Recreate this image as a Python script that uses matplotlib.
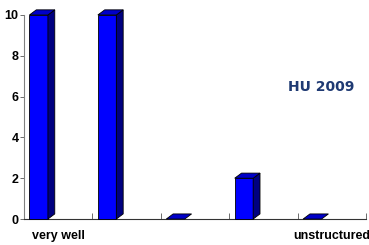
import matplotlib
matplotlib.use("Agg")
import matplotlib.pyplot as plt
from matplotlib.patches import Polygon

plt.rcParams.update({
    "font.family": ["Liberation Sans Narrow", "Liberation Sans", "DejaVu Sans"],
    "font.weight": "bold",
})

categories = ["very well", "", "", "", "unstructured"]
counts = [10, 10, 0, 2, 0]
y_ticks = [0, 2, 4, 6, 8, 10]
label_text = "HU 2009"

FRONT = "#0000FF"
SIDE = "#000080"
TOP = "#0000C8"

# bar geometry in category units
OFF, W = 0.08, 0.27
DX, DY = 0.1, 0.25

fig = plt.figure(figsize=(3.69, 2.45), dpi=100)
ax = fig.add_axes([0.065, 0.106, 0.927, 0.833])

for i, v in enumerate(counts):
    x0 = i + OFF
    x1 = x0 + W
    if v > 0:
        ax.add_patch(Polygon([(x0, 0), (x1, 0), (x1, v), (x0, v)], closed=True,
                             facecolor=FRONT, edgecolor="black", lw=0.6, clip_on=False, zorder=3))
        ax.add_patch(Polygon([(x1, 0), (x1 + DX, DY), (x1 + DX, v + DY), (x1, v)], closed=True,
                             facecolor=SIDE, edgecolor="black", lw=0.6, clip_on=False, zorder=3))
    ax.add_patch(Polygon([(x0, v), (x1, v), (x1 + DX, v + DY), (x0 + DX, v + DY)], closed=True,
                         facecolor=TOP, edgecolor="black", lw=0.6, clip_on=False, zorder=4))

ax.set_xlim(0, len(counts))
ax.set_ylim(0, 10)
ax.set_yticks(y_ticks)
ax.set_yticklabels([str(t) for t in y_ticks], fontsize=9, fontweight="bold")
ax.set_xticks(range(1, len(counts) + 1))
ax.set_xticklabels([""] * len(counts))
ax.set_xticks([i + 0.5 for i in range(len(counts))], minor=True)
ax.set_xticklabels(categories, minor=True, fontsize=9, fontweight="bold")
ax.tick_params(axis="x", which="major", direction="in", length=4, width=0.6, color="#555555")
ax.tick_params(axis="x", which="minor", length=0, pad=8)
ax.tick_params(axis="y", direction="out", length=3, width=0.6, color="#555555", pad=1)

for s in ["top", "right"]:
    ax.spines[s].set_visible(False)
ax.spines["left"].set_color("#808080")
ax.spines["left"].set_linewidth(0.8)
ax.spines["bottom"].set_color("#333333")
ax.spines["bottom"].set_linewidth(0.8)

ax.text(0.87, 0.647, label_text, transform=ax.transAxes, ha="center", va="center",
        fontsize=10, fontweight="bold", color="#1F3A73", family="DejaVu Sans")

fig.savefig("out.png", dpi=100)
